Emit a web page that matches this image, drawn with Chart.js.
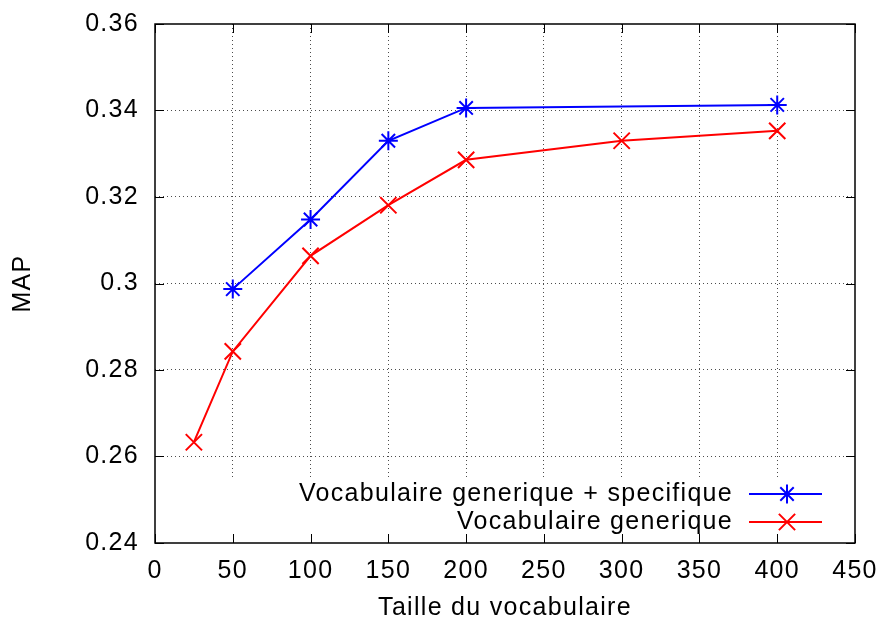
<!DOCTYPE html>
<html lang="fr">
<head>
<meta charset="UTF-8" />
<title>MAP selon la taille du vocabulaire</title>
<script src="https://cdn.jsdelivr.net/npm/chart.js@4.4.0/dist/chart.umd.min.js"></script>
<style>
  html, body { margin: 0; padding: 0; background: #fff; }
</style>
</head>
<body>
<canvas id="myChart" width="885" height="623"></canvas>
<script>
// donnees
const tailleSpec = [50, 100, 150, 200, 400];
const mapSpec = [0.2987, 0.3148, 0.3330, 0.3406, 0.3413];
const tailleGen = [25, 50, 100, 150, 200, 300, 400];
const mapGen = [0.2633, 0.2843, 0.3064, 0.3181, 0.3286, 0.3330, 0.3353];
const xTicks = [0, 50, 100, 150, 200, 250, 300, 350, 400, 450];
const yTicks = [0.24, 0.26, 0.28, 0.3, 0.32, 0.34, 0.36];
const labelSpec = 'Vocabulaire generique + specifique';
const labelGen = 'Vocabulaire generique';

const police = 'Liberation Sans, Arial, Helvetica, sans-serif';
const taille = 25;

// dessine un marqueur facon gnuplot (etoile ou croix)
function marqueur(ctx, style, x, y, r) {
  ctx.beginPath();
  const d = r * 0.707;
  if (style === 'star') {
    ctx.moveTo(x - r, y); ctx.lineTo(x + r, y);
    ctx.moveTo(x, y - r); ctx.lineTo(x, y + r);
  }
  ctx.moveTo(x - d, y - d); ctx.lineTo(x + d, y + d);
  ctx.moveTo(x - d, y + d); ctx.lineTo(x + d, y - d);
  ctx.stroke();
}

// cadre, graduations interieures et legende dans le graphique
const cadreGnuplot = {
  id: 'cadreGnuplot',
  beforeDraw(chart) {
    chart.ctx.letterSpacing = '1.3px';
  },
  beforeDatasetsDraw(chart) {
    const { ctx, chartArea: a } = chart;
    ctx.save();
    ctx.fillStyle = '#fff';
    ctx.fillRect(a.left + 1, 479, a.right - a.left - 2, a.bottom - 480);
    ctx.restore();
  },
  afterDatasetsDraw(chart) {
    const { ctx, chartArea: a, scales: { x, y } } = chart;
    ctx.save();
    ctx.strokeStyle = '#000';
    ctx.lineWidth = 1.5;
    ctx.strokeRect(a.left, a.top, a.right - a.left, a.bottom - a.top);

    const t = 9;
    ctx.lineWidth = 1;
    ctx.beginPath();
    xTicks.forEach(v => {
      const px = Math.round(x.getPixelForValue(v)) + 0.5;
      ctx.moveTo(px, a.bottom); ctx.lineTo(px, a.bottom - t);
      ctx.moveTo(px, a.top); ctx.lineTo(px, a.top + t);
    });
    yTicks.forEach(v => {
      const py = Math.round(y.getPixelForValue(v)) + 0.5;
      ctx.moveTo(a.left, py); ctx.lineTo(a.left + t, py);
      ctx.moveTo(a.right, py); ctx.lineTo(a.right - t, py);
    });
    ctx.stroke();

    // legende
    ctx.font = taille + 'px ' + police;
    ctx.textAlign = 'right';
    ctx.textBaseline = 'middle';
    chart.data.datasets.forEach((ds, i) => {
      const ly = 494 + i * 28;
      ctx.fillStyle = '#000';
      ctx.fillText(ds.label, 733, ly);
      ctx.strokeStyle = ds.borderColor;
      ctx.lineWidth = 2;
      ctx.beginPath();
      ctx.moveTo(749, ly); ctx.lineTo(822, ly);
      ctx.stroke();
      marqueur(ctx, ds.pointStyle, 787, ly, ds.pointRadius);
    });
    ctx.restore();
  }
};

const grilleCouleur = ctx =>
  (ctx.index === 0 || ctx.index === ctx.chart.scales[ctx.scale.id].ticks.length - 1)
    ? 'rgba(0,0,0,0)' : 'rgba(0,0,0,0.7)';

const ctx = document.getElementById('myChart').getContext('2d');
const myChart = new Chart(ctx, {
  type: 'line',
  data: {
    datasets: [
      {
        label: labelSpec,
        data: tailleSpec.map((t, i) => ({ x: t, y: mapSpec[i] })),
        borderColor: '#0000ff',
        backgroundColor: '#0000ff',
        borderWidth: 2,
        pointStyle: 'star',
        pointRadius: 9.5,
        pointBorderWidth: 2,
        pointHoverRadius: 9.5,
        fill: false,
        tension: 0
      },
      {
        label: labelGen,
        data: tailleGen.map((t, i) => ({ x: t, y: mapGen[i] })),
        borderColor: '#ff0000',
        backgroundColor: '#ff0000',
        borderWidth: 2,
        pointStyle: 'crossRot',
        pointRadius: 11.5,
        pointBorderWidth: 2,
        pointHoverRadius: 11.5,
        fill: false,
        tension: 0
      }
    ]
  },
  options: {
    responsive: false,
    animation: false,
    layout: { padding: { left: 0, right: 30, top: 24, bottom: 0 } },
    plugins: {
      legend: { display: false },
      tooltip: { enabled: false }
    },
    scales: {
      x: {
        type: 'linear',
        min: 0,
        max: 450,
        afterBuildTicks: s => { s.ticks = xTicks.map(v => ({ value: v })); },
        afterFit: s => { s.height = 80; s.paddingLeft = 0; s.paddingRight = 0; },
        grid: { color: grilleCouleur, borderDash: [1, 3], drawTicks: false, lineWidth: 1 },
        border: { display: false, dash: [1, 3] },
        ticks: {
          autoSkip: false,
          maxRotation: 0,
          padding: 13,
          color: '#000',
          font: { family: police, size: taille },
          callback: v => String(v)
        },
        title: {
          display: true,
          text: 'Taille du vocabulaire',
          color: '#000',
          font: { family: police, size: taille },
          padding: { top: 0, bottom: 0 }
        }
      },
      y: {
        min: 0.24,
        max: 0.36,
        afterBuildTicks: s => { s.ticks = yTicks.map(v => ({ value: v })); },
        afterFit: s => { s.width = 155; s.paddingTop = 0; s.paddingBottom = 0; },
        grid: { color: grilleCouleur, borderDash: [1, 3], drawTicks: false, lineWidth: 1 },
        border: { display: false, dash: [1, 3] },
        ticks: {
          padding: 16,
          color: '#000',
          font: { family: police, size: taille },
          callback: v => String(Number(v.toFixed(2)))
        },
        title: {
          display: true,
          text: 'MAP',
          color: '#000',
          font: { family: police, size: taille },
          padding: { top: 8, bottom: 0 }
        }
      }
    }
  },
  plugins: [cadreGnuplot]
});
</script>
</body>
</html>
